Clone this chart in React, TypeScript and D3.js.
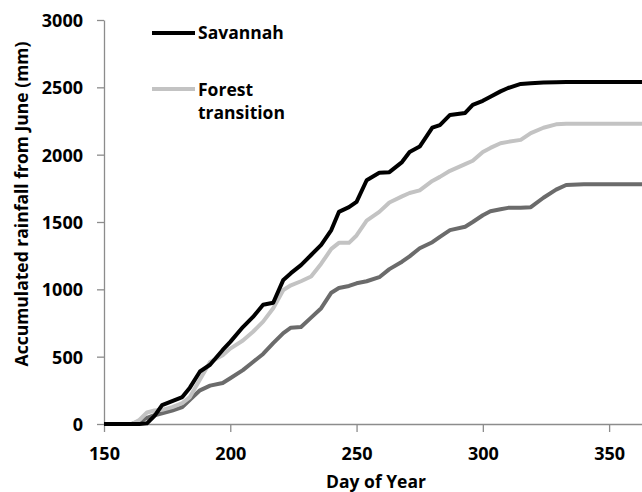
import React, { useEffect, useRef } from 'react';
import * as d3 from 'd3';

const days = [150, 161, 164, 167, 170, 173, 177, 181, 184, 188, 192, 197, 200, 205, 209, 213, 217, 221, 224, 228, 232, 236, 240, 243, 247, 250, 254, 259, 263, 268, 271, 275, 280, 283, 287, 293, 296, 300, 303, 307, 310, 315, 319, 324, 329, 333, 340, 365];

const savannah = [0, 0, 0, 5, 60, 140, 170, 200, 270, 390, 440, 550, 610, 720, 795, 885, 900, 1070, 1120, 1180, 1255, 1330, 1440, 1575, 1610, 1650, 1810, 1865, 1870, 1945, 2020, 2060, 2200, 2220, 2295, 2310, 2370, 2400, 2430, 2470, 2495, 2525, 2530, 2535, 2538, 2540, 2540, 2540];

const forest = [0, 0, 30, 85, 100, 105, 125, 155, 200, 330, 460, 510, 560, 620, 685, 760, 860, 995, 1030, 1060, 1095, 1190, 1300, 1345, 1345, 1400, 1510, 1575, 1645, 1690, 1715, 1735, 1805, 1835, 1880, 1930, 1955, 2020, 2050, 2085, 2095, 2110, 2160, 2200, 2225, 2230, 2230, 2230];

const third = [0, 0, 20, 45, 65, 80, 100, 125, 180, 250, 285, 305, 340, 400, 460, 520, 600, 675, 715, 720, 790, 860, 975, 1010, 1025, 1045, 1060, 1090, 1150, 1205, 1245, 1305, 1350, 1390, 1440, 1465, 1500, 1550, 1580, 1595, 1605, 1605, 1610, 1680, 1740, 1775, 1780, 1780];

const xTicks = [150, 200, 250, 300, 350];
const yTicks = [0, 500, 1000, 1500, 2000, 2500, 3000];

const width = 642;
const height = 492;
const font = '"Open Sans", Lato, sans-serif';

const App: React.FC = () => {
  const svgRef = useRef<SVGSVGElement>(null);

  useEffect(() => {
    const svg = d3.select(svgRef.current);
    svg.selectAll('*').remove();

    const x = d3.scaleLinear().domain([150, 365]).range([104, 647]);
    const y = d3.scaleLinear().domain([0, 3000]).range([424, 20]);

    // axes
    const gx = svg.append('g').attr('transform', `translate(0,${y(0)})`);
    gx.call(d3.axisBottom(x).tickValues(xTicks).tickFormat(d3.format('d')).tickSize(8).tickSizeOuter(0).tickPadding(15));
    const gy = svg.append('g').attr('transform', `translate(${x(150)},0)`);
    gy.call(d3.axisLeft(y).tickValues(yTicks).tickFormat(d3.format('d')).tickSize(7).tickSizeOuter(0).tickPadding(14));

    [gx, gy].forEach(g => {
      g.select('.domain').attr('stroke', '#8c8c8c').attr('stroke-width', 1.3);
      g.selectAll('.tick line').attr('stroke', '#8c8c8c').attr('stroke-width', 1.3);
      g.selectAll('.tick text')
        .attr('font-family', font)
        .attr('font-weight', 'bold')
        .attr('font-size', 18)
        .attr('fill', '#000');
    });
    gy.selectAll('.tick text').attr('dy', '0.36em');

    // lines
    const series = [
      { values: third, color: '#6b6b6b' },
      { values: forest, color: '#c3c3c3' },
      { values: savannah, color: '#000000' },
    ];
    const line = d3.line<number>()
      .x((_, i) => x(days[i]))
      .y(d => y(d));

    series.forEach(s => {
      svg.append('path')
        .datum(s.values)
        .attr('d', line)
        .attr('fill', 'none')
        .attr('stroke', s.color)
        .attr('stroke-width', 4)
        .attr('stroke-linejoin', 'round');
    });

    // legend
    const legend = svg.append('g');
    legend.append('line')
      .attr('x1', 152).attr('x2', 195).attr('y1', 33).attr('y2', 33)
      .attr('stroke', '#000').attr('stroke-width', 4);
    legend.append('text')
      .attr('x', 198).attr('y', 39)
      .attr('font-family', font).attr('font-weight', 'bold').attr('font-size', 17.5)
      .text('Savannah');
    legend.append('line')
      .attr('x1', 152).attr('x2', 195).attr('y1', 89).attr('y2', 89)
      .attr('stroke', '#c3c3c3').attr('stroke-width', 4);
    legend.append('text')
      .attr('x', 198).attr('y', 96)
      .attr('font-family', font).attr('font-weight', 'bold').attr('font-size', 17.5)
      .text('Forest');
    legend.append('text')
      .attr('x', 198).attr('y', 119)
      .attr('font-family', font).attr('font-weight', 'bold').attr('font-size', 17.5)
      .text('transition');

    // titles
    svg.append('text')
      .attr('x', 376).attr('y', 488)
      .attr('text-anchor', 'middle')
      .attr('font-family', font).attr('font-weight', 'bold').attr('font-size', 17.5)
      .text('Day of Year');
    svg.append('text')
      .attr('transform', 'translate(28,204) rotate(-90)')
      .attr('text-anchor', 'middle')
      .attr('font-family', font).attr('font-weight', 'bold').attr('font-size', 17.5)
      .text('Accumulated rainfall from June (mm)');
  }, []);

  return (
    <svg
      ref={svgRef}
      width={width}
      height={height}
      style={{ position: 'absolute', left: 0, top: 0, background: '#fff' }}
    />
  );
};

export default App;
